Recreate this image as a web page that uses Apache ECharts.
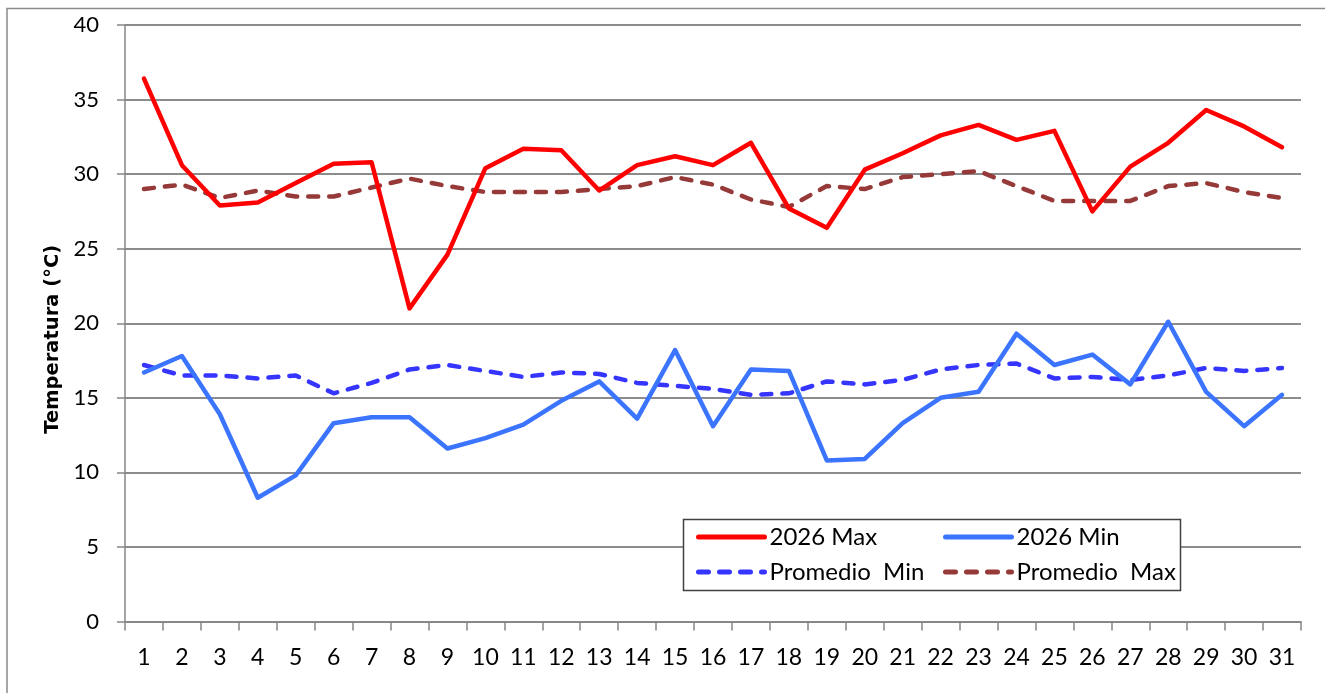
<!DOCTYPE html>
<html>
<head>
<meta charset="utf-8">
<script src="https://cdn.jsdelivr.net/npm/echarts@6/dist/echarts.min.js"></script>
<style>
html,body{margin:0;padding:0;background:#fff;}
#chart{width:1325px;height:693px;}
</style>
</head>
<body>
<div id="chart"></div>
<script>
const days = ['1','2','3','4','5','6','7','8','9','10','11','12','13','14','15','16','17','18','19','20','21','22','23','24','25','26','27','28','29','30','31'];
const max2026 = [36.4,30.6,27.9,28.1,29.4,30.7,30.8,21.0,24.6,30.4,31.7,31.6,28.9,30.6,31.2,30.6,32.1,27.7,26.4,30.3,31.4,32.6,33.3,32.3,32.9,27.5,30.5,32.1,34.3,33.2,31.8];
const min2026 = [16.7,17.8,13.9,8.3,9.8,13.3,13.7,13.7,11.6,12.3,13.2,14.8,16.1,13.6,18.2,13.1,16.9,16.8,10.8,10.9,13.3,15.0,15.4,19.3,17.2,17.9,15.9,20.1,15.4,13.1,15.2];
const promMin = [17.2,16.5,16.5,16.3,16.5,15.3,16.0,16.9,17.2,16.8,16.4,16.7,16.6,16.0,15.8,15.6,15.2,15.3,16.1,15.9,16.2,16.9,17.2,17.3,16.3,16.4,16.2,16.5,17.0,16.8,17.0];
const promMax = [29.0,29.3,28.4,28.9,28.5,28.5,29.1,29.7,29.2,28.8,28.8,28.8,29.0,29.2,29.8,29.3,28.3,27.8,29.2,29.0,29.8,30.0,30.2,29.2,28.2,28.2,28.2,29.2,29.4,28.8,28.4];
const yTicks = {min: 0, max: 40, interval: 5};

const FONT = 'Lato, "Noto Sans", sans-serif';
const chart = echarts.init(document.getElementById('chart'), null, {renderer: 'canvas'});

const legendText = {fontFamily: FONT, fontSize: 24, lineHeight: 24, color: '#000'};
const legendCommon = {
  orient: 'vertical', top: 525, itemWidth: 66, itemHeight: 14, itemGap: 11,
  padding: 0, textStyle: legendText, z: 60,
  itemStyle: {opacity: 0, borderWidth: 0},
  lineStyle: {width: 5, cap: 'round'}
};
const option = {
  animation: false,
  backgroundColor: '#fff',
  grid: {left: 125, right: 24, top: 25, bottom: 71.5, containLabel: false},
  graphic: [
    {type: 'rect', shape: {x: 7, y: 8.5, width: 1340, height: 720}, style: {fill: 'none', stroke: '#8a8a8a', lineWidth: 1.5}, silent: true, z: -10},
    {type: 'rect', shape: {x: 683.5, y: 519.5, width: 497, height: 71}, style: {fill: '#fff', stroke: '#404040', lineWidth: 1.5}, silent: true, z: 50}
  ],
  legend: [
    Object.assign({}, legendCommon, {left: 696, data: ['2026 Max', 'Promedio  Min']}),
    Object.assign({}, legendCommon, {left: 943, data: ['2026 Min', 'Promedio  Max']})
  ],
  xAxis: {
    type: 'category',
    data: days,
    boundaryGap: true,
    axisLine: {show: true, lineStyle: {color: '#878787', width: 1.5}},
    axisTick: {show: true, inside: false, length: 9, alignWithLabel: false, lineStyle: {color: '#878787', width: 1.5}},
    axisLabel: {fontFamily: FONT, fontSize: 23, color: '#000', margin: 25, interval: 0},
    splitLine: {show: false}
  },
  yAxis: {
    type: 'value',
    min: yTicks.min, max: yTicks.max, interval: yTicks.interval,
    name: 'Temperatura (°C)',
    nameLocation: 'middle',
    nameGap: 41,
    nameRotate: 90,
    nameTextStyle: {fontFamily: '"DejaVu Sans", "Noto Sans", sans-serif', fontSize: 19.5, fontWeight: 'bold', color: '#000', padding: [0, 32, 0, 0]},
    axisLine: {show: true, lineStyle: {color: '#878787', width: 1.5}},
    axisTick: {show: true, inside: false, length: 8, lineStyle: {color: '#878787', width: 1.5}},
    axisLabel: {fontFamily: FONT, fontSize: 22, color: '#000', margin: 26},
    splitLine: {show: true, lineStyle: {color: '#8c8c8c', width: 1.8}}
  },
  series: [
    {
      name: '2026 Max', type: 'line', data: max2026, symbol: 'none',
      lineStyle: {color: '#ff0000', width: 4.5, join: 'round', cap: 'round'},
      itemStyle: {color: '#ff0000'}, z: 4
    },
    {
      name: '2026 Min', type: 'line', data: min2026, symbol: 'none',
      lineStyle: {color: '#3b74ff', width: 4.5, join: 'round', cap: 'round'},
      itemStyle: {color: '#3b74ff'}, z: 4
    },
    {
      name: 'Promedio  Min', type: 'line', data: promMin, symbol: 'none',
      lineStyle: {color: '#3535ff', width: 4.5, type: [10, 11], cap: 'round', join: 'round'},
      itemStyle: {color: '#3535ff'}, z: 3
    },
    {
      name: 'Promedio  Max', type: 'line', data: promMax, symbol: 'none',
      lineStyle: {color: '#953a38', width: 4.5, type: [10, 11], cap: 'round', join: 'round'},
      itemStyle: {color: '#953a38'}, z: 3
    }
  ]
};
chart.setOption(option);
</script>
</body>
</html>
